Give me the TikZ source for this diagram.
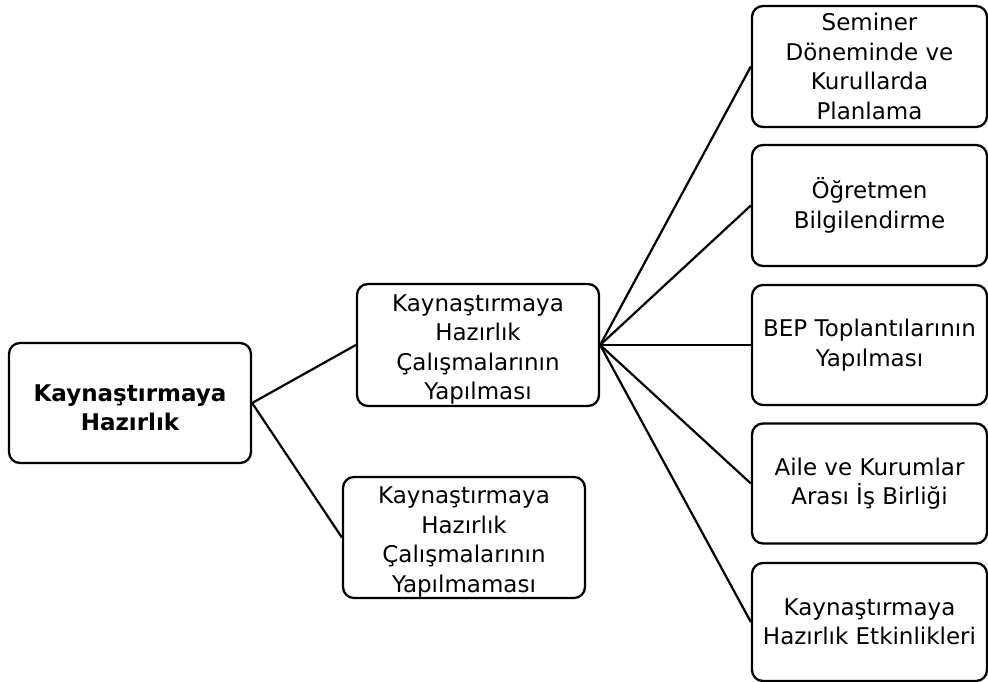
\documentclass[tikz,border=0pt]{standalone}
\usepackage{fontspec}
\setmainfont{DejaVu Sans}
% extra height on the first line pushes the text block slightly down
\newcommand{\lowerby}{\rule{0pt}{26pt}}
\begin{document}
\begin{tikzpicture}[x=1pt,y=-1pt,
  box/.style={draw, line width=2.3pt, rounded corners=11pt, align=center,
    inner sep=0pt, font=\fontsize{23}{29.5}\selectfont},
  link/.style={line width=2.2pt}]
\useasboundingbox (0,0) rectangle (988,682);
% root
\node[box, minimum width=242pt, minimum height=120pt,
  font=\fontsize{23}{28.5}\selectfont\bfseries] (root) at (130,403) {\lowerby Kaynaştırmaya\\Hazırlık};
% second level
\node[box, minimum width=242pt, minimum height=122pt] (yes) at (478,345)
  {\lowerby Kaynaştırmaya\\Hazırlık\\Çalışmalarının\\Yapılması};
\node[box, minimum width=242pt, minimum height=121pt] (no) at (464,537.5)
  {\lowerby Kaynaştırmaya\\Hazırlık\\Çalışmalarının\\Yapılmaması};
% third level
\node[box, minimum width=235pt, minimum height=121pt] (r1) at (869.5,66.5)
  {Seminer\\Döneminde ve\\Kurullarda\\Planlama};
\node[box, minimum width=235pt, minimum height=121pt] (r2) at (869.5,205.5)
  {Öğretmen\\Bilgilendirme};
\node[box, minimum width=235pt, minimum height=120pt] (r3) at (869.5,345)
  {BEP Toplantılarının\\Yapılması};
\node[box, minimum width=235pt, minimum height=120pt] (r4) at (869.5,483.5)
  {Aile ve Kurumlar\\Arası İş Birliği};
\node[box, minimum width=235pt, minimum height=118pt] (r5) at (869.5,622)
  {Kaynaştırmaya\\Hazırlık Etkinlikleri};
% connectors
\draw[link] (root.east) -- (yes.west);
\draw[link] (root.east) -- (no.west);
\foreach \r in {r1,r2,r3,r4,r5}
  \draw[link] (yes.east) -- (\r.west);
\end{tikzpicture}
\end{document}
